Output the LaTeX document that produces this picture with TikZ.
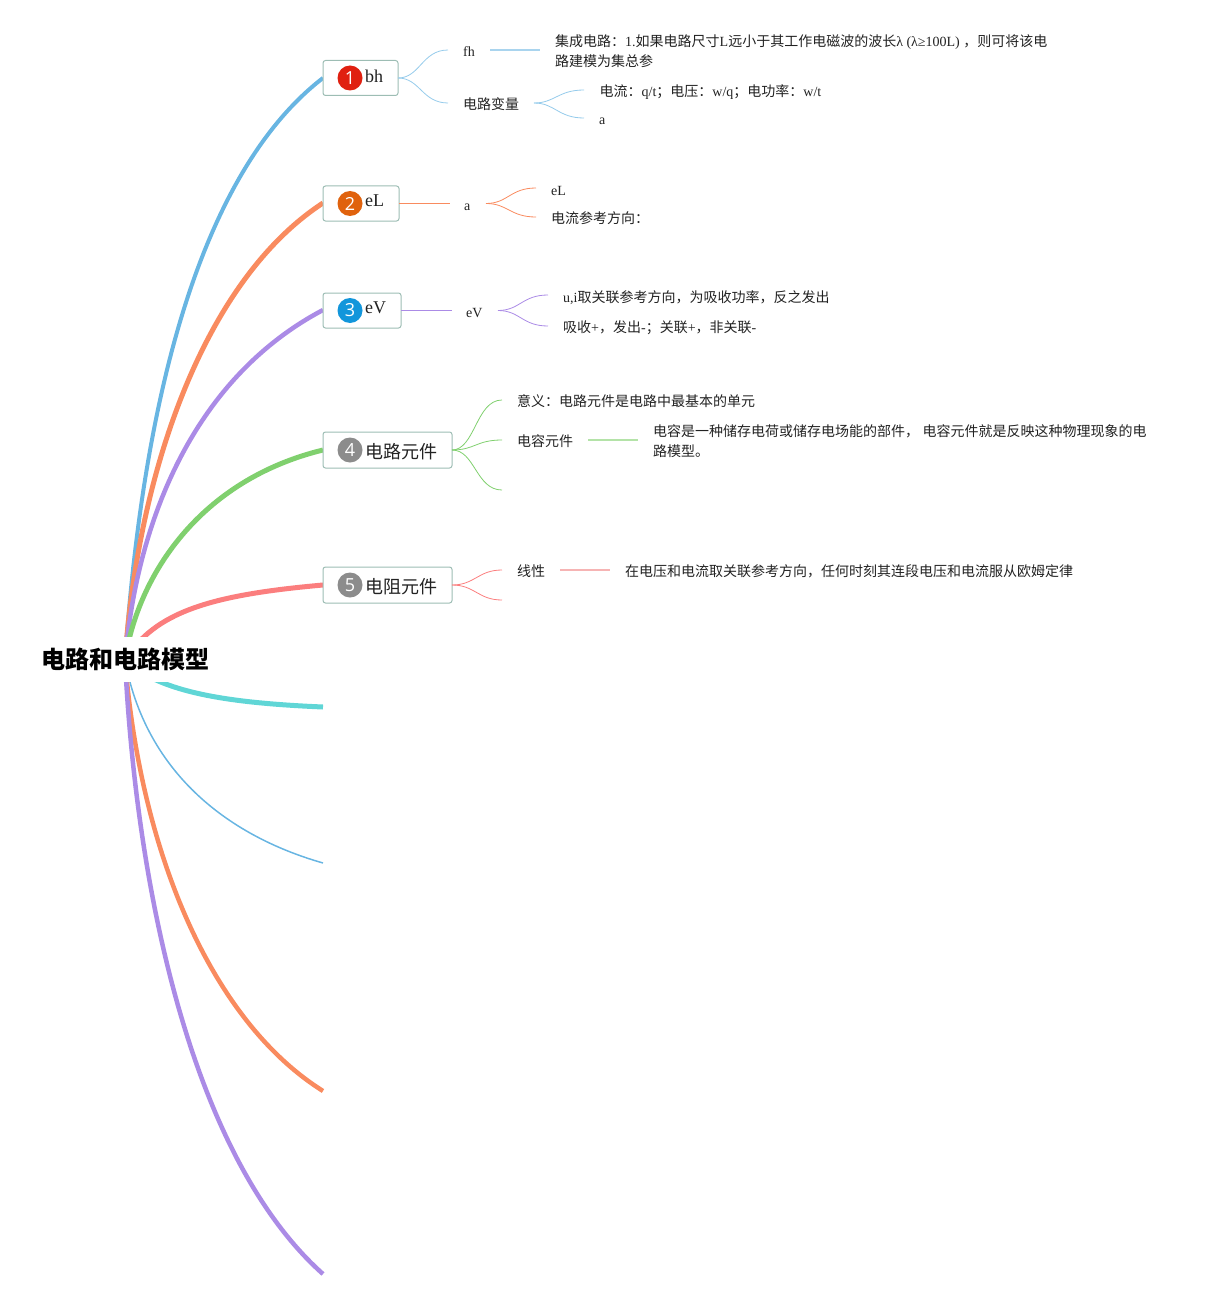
\documentclass[tikz,border=0pt]{standalone}
\usepackage{fontspec}
\setmainfont{Liberation Serif}
\newfontfamily\cjk{Noto Sans CJK SC}
\newfontfamily\numfont{Open Sans}
\newcommand{\C}[1]{{\cjk #1}}
\definecolor{cblue}{HTML}{68B5E2}
\definecolor{corange}{HTML}{F98B5F}
\definecolor{cpurple}{HTML}{AB8BE6}
\definecolor{cgreen}{HTML}{80D06E}
\definecolor{cred}{HTML}{FB7E7E}
\definecolor{cteal}{HTML}{60D6D6}
\definecolor{boxedge}{HTML}{9DBDB4}
\definecolor{bred}{HTML}{E02010}
\definecolor{borange}{HTML}{E0620D}
\definecolor{bblue}{HTML}{1296DB}
\definecolor{bgrey}{HTML}{8C8C8C}
\definecolor{lblue}{HTML}{A9D4EE}
\definecolor{lgreen}{HTML}{B4E3A8}
\definecolor{lred}{HTML}{F6B4B4}
\definecolor{inkc}{HTML}{222222}
\tikzset{
  topic/.style={draw=boxedge,fill=white,rounded corners=2.5pt,line width=1pt,outer sep=0pt,inner sep=0pt,anchor=west,font=\fontsize{18}{20}\selectfont},
  badge/.style={circle,minimum size=25pt,inner sep=0pt,text=white,font=\numfont\fontsize{18}{18}\selectfont},
  toplabel/.style={anchor=west,inner sep=0pt,text=inkc,font=\fontsize{18}{20}\selectfont},
  leaf/.style={anchor=west,inner sep=0pt,text=inkc,font=\fontsize{14}{20}\selectfont,align=left},
  main/.style={line width=5pt},
  sub/.style={line width=.8pt},
  rule/.style={line width=1.3pt},
  wrule/.style={line width=1.5pt}
}
\begin{document}
\begin{tikzpicture}[x=1pt,y=-1pt]
\useasboundingbox (0,0) rectangle (1213,1300);
% root
\coordinate (r) at (125,660);
\coordinate (e6) at (323,707);
\coordinate (e7) at (323,863);
\coordinate (e8) at (323,1091);
\coordinate (e9) at (323,1274);
\coordinate (t1w) at (323,78);
\coordinate (t2w) at (323,203);
\coordinate (t3w) at (323,310);
\coordinate (t4w) at (323,450);
\coordinate (t5w) at (323,585);
% main branches
\draw[main,line width=4pt,cblue] (r) .. controls (145,370) and (210,165) .. (t1w);
\draw[main,corange] (r) .. controls (138,470) and (205,280) .. (t2w);
\draw[main,line width=4.5pt,cpurple] (r) .. controls (138,510) and (200,375) .. (t3w);
\draw[main,cgreen] (r) .. controls (138,575) and (200,480) .. (t4w);
\draw[main,cred] (r) .. controls (155,612) and (210,595) .. (t5w);
\draw[main,cteal] (r) .. controls (160,693) and (230,703) .. (e6);
\draw[line width=1.5pt,cblue] (r) .. controls (145,770) and (225,835) .. (e7);
\draw[main,line width=4.5pt,corange] (r) .. controls (140,850) and (210,1020) .. (e8);
\draw[main,line width=4.5pt,cpurple] (r) .. controls (137,900) and (195,1160) .. (e9);
\node[fill=white,inner xsep=3pt,minimum height=45pt,font=\cjk\bfseries\fontsize{24}{26}\selectfont] (root) at (125,659) {电路和电路模型};
% topics
\node[topic,minimum width=75pt,minimum height=35pt] (t1) at (323,78) {};
\node[badge,fill=bred] (b1) at (350,78) {1};
\node[toplabel] (l1) at (365,76) {bh};
\node[topic,minimum width=76pt,minimum height=35pt] (t2) at (323,203.5) {};
\node[badge,fill=borange] (b2) at (350,203.5) {2};
\node[toplabel] (l2) at (365,201) {eL};
\node[topic,minimum width=78pt,minimum height=35pt] (t3) at (323,310.5) {};
\node[badge,fill=bblue] (b3) at (350,310.5) {3};
\node[toplabel] (l3) at (365,308) {eV};
\node[topic,minimum width=129pt,minimum height=36pt] (t4) at (323,450) {};
\node[badge,fill=bgrey] (b4) at (350,450) {4};
\node[toplabel,font=\cjk\fontsize{18}{20}\selectfont] (l4) at (365,452) {电路元件};
\node[topic,minimum width=129pt,minimum height=36pt] (t5) at (323,585) {};
\node[badge,fill=bgrey] (b5) at (350,585) {5};
\node[toplabel,font=\cjk\fontsize{18}{20}\selectfont] (l5) at (365,587) {电阻元件};
% leaves
\node[leaf] (fh) at (463,52) {fh};
\node[leaf] (var) at (463,104.5) {\C{电路变量}};
\node[leaf] (jc) at (555,51.5) {\C{集成电路：}1.\C{如果电路尺寸}L\C{远小于其工作电磁波的波长}λ (λ≥100L) \C{，则可将该电}\\\C{路建模为集总参}};
\node[leaf] (dl) at (599.5,92) {\C{电流：}q/t\C{；电压：}w/q\C{；电功率：}w/t};
\node[leaf] (a1) at (599,121) {a};
\node[leaf] (a2) at (464,207) {a};
\node[leaf] (el) at (551,191) {eL};
\node[leaf] (cankao) at (551,218.5) {\C{电流参考方向：}};
\node[leaf] (ev) at (466,313) {eV};
\node[leaf] (ui) at (563,298) {u,i\C{取关联参考方向，为吸收功率，反之发出}};
\node[leaf] (xs) at (563,328) {\C{吸收}+\C{，发出}-\C{；关联}+\C{，非关联}-};
\node[leaf] (yy) at (517,401.5) {\C{意义：电路元件是电路中最基本的单元}};
\node[leaf] (dr) at (517,441.5) {\C{电容元件}};
\node[leaf] (drd) at (653,441.5) {\C{电容是一种储存电荷或储存电场能的部件，} \C{电容元件就是反映这种物理现象的电}\\\C{路模型。}};
\node[leaf] (xx) at (517,571.5) {\C{线性}};
\node[leaf] (xxd) at (625,571.5) {\C{在电压和电流取关联参考方向，任何时刻其连段电压和电流服从欧姆定律}};
% connector ends
\coordinate (a) at (398,78); \coordinate (ab) at (448,50); \coordinate (ac) at (448,103);
\coordinate (fhr) at (490,50); \coordinate (fhe) at (540,50);
\coordinate (vr) at (534,103); \coordinate (v1) at (584,90); \coordinate (v2) at (584,118);
\coordinate (b) at (399,203.5); \coordinate (bb) at (450,203.5);
\coordinate (br) at (486,203.5); \coordinate (b1e) at (536,188); \coordinate (b2e) at (536,217);
\coordinate (c) at (401,310.5); \coordinate (cc) at (452,310.5);
\coordinate (cr) at (498,310.5); \coordinate (c1e) at (548,295); \coordinate (c2e) at (548,326);
\coordinate (d) at (452,450); \coordinate (d1e) at (502,400); \coordinate (d2e) at (502,440); \coordinate (d3e) at (502,490);
\coordinate (dr2) at (588,440); \coordinate (dre) at (638,440);
\coordinate (f) at (452,585); \coordinate (f1e) at (502,570); \coordinate (f2e) at (502,600);
\coordinate (fr) at (560,570); \coordinate (fre) at (610,570);
% sub connectors
\draw[sub,cblue!70] (a) .. controls (420,78) and (422,50) .. (ab);
\draw[sub,cblue!70] (a) .. controls (420,78) and (422,103) .. (ac);
\draw[wrule,lblue] (fhr) -- (fhe);
\draw[sub,cblue!70] (vr) .. controls (555,103) and (558,90) .. (v1);
\draw[sub,cblue!70] (vr) .. controls (555,103) and (558,118) .. (v2);
\draw[rule,corange] (b) -- (bb);
\draw[sub,corange] (br) .. controls (508,203.5) and (510,188) .. (b1e);
\draw[sub,corange] (br) .. controls (508,203.5) and (510,217) .. (b2e);
\draw[rule,cpurple] (c) -- (cc);
\draw[sub,cpurple] (cr) .. controls (520,310.5) and (522,295) .. (c1e);
\draw[sub,cpurple] (cr) .. controls (520,310.5) and (522,326) .. (c2e);
\draw[sub,cgreen] (d) .. controls (475,450) and (476,400) .. (d1e);
\draw[sub,cgreen] (d) .. controls (475,450) and (476,440) .. (d2e);
\draw[sub,cgreen] (d) .. controls (475,450) and (476,490) .. (d3e);
\draw[wrule,lgreen] (dr2) -- (dre);
\draw[sub,cred] (f) .. controls (475,585) and (478,570) .. (f1e);
\draw[sub,cred] (f) .. controls (475,585) and (478,600) .. (f2e);
\draw[wrule,lred] (fr) -- (fre);
\end{tikzpicture}
\end{document}
